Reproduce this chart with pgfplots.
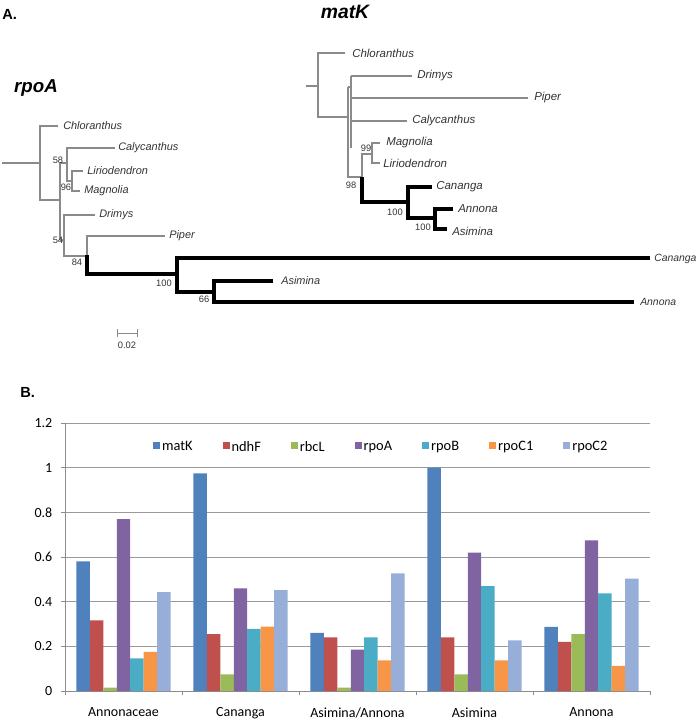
\documentclass[border=0pt]{standalone}
\usepackage{pgfplots}
\pgfplotsset{compat=1.18}
\usepackage{fontspec}
\setmainfont{Liberation Sans}
\newfontfamily\calfont{Carlito}
\definecolor{cmatK}{HTML}{4F81BD}
\definecolor{cndhF}{HTML}{C0504D}
\definecolor{crbcL}{HTML}{9BBB59}
\definecolor{crpoA}{HTML}{8064A2}
\definecolor{crpoB}{HTML}{4BACC6}
\definecolor{crpoCa}{HTML}{F79646}
\definecolor{crpoCb}{HTML}{97AED8}
\definecolor{treegray}{HTML}{8A8A8A}
\definecolor{txt}{HTML}{333333}
\definecolor{gridgray}{HTML}{9A9A9A}
\definecolor{axgray}{HTML}{8C8C8C}
\tikzset{
  gb/.style={treegray, line width=0.8pt},
  tb/.style={black, line width=2.3pt},
  lab/.style={anchor=west, inner sep=0pt, text=txt, font=\fontsize{8.2}{9}\selectfont\itshape},
  labm/.style={anchor=west, inner sep=0pt, text=txt, font=\fontsize{8.6}{9}\selectfont\itshape},
  bs/.style={inner sep=0pt, text=txt, font=\fontsize{7}{8}\selectfont},
}
\begin{document}
\begin{tikzpicture}[x=1pt,y=1pt]
\path[use as bounding box] (0pt,0pt) rectangle (522.75pt,-540pt);
% ---------------- Panel A: trees ----------------
\begin{axis}[at={(0pt,0pt)}, anchor=north west, scale only axis,
  width=522.75pt, height=262.5pt,
  xmin=0, xmax=697, ymin=0, ymax=350, y dir=reverse,
  hide axis, clip=false]
% rpoA tree (gray)
\addplot[gb] coordinates {(2,163) (40,163)};
\addplot[gb] coordinates {(58,126) (40,126) (40,200) (60,200)};
\addplot[gb] coordinates {(60,163) (60,240)};
\addplot[gb] coordinates {(60,163) (67,163)};
\addplot[gb] coordinates {(115,148) (67,148) (67,181) (72,181)};
\addplot[gb] coordinates {(83,171) (72,171) (72,191) (80,191)};
\addplot[gb] coordinates {(60,240) (64,240)};
\addplot[gb] coordinates {(95,215) (64,215) (64,256) (87,256)};
\addplot[gb] coordinates {(165,236) (87,236) (87,256)};
% rpoA tree (thick)
\addplot[tb] coordinates {(87,255) (87,274) (177,274)};
\addplot[tb] coordinates {(650,258) (177,258) (177,292) (214,292)};
\addplot[tb] coordinates {(273,281) (214,281) (214,302) (634,302)};
% scale bar
\addplot[gb, line width=0.7pt] coordinates {(117,333) (137,333)};
\addplot[gb, line width=0.7pt] coordinates {(117,329) (117,337)};
\addplot[gb, line width=0.7pt] coordinates {(137,329) (137,337)};
\node[bs] at (axis cs:127,345) {0.02};
% rpoA labels
\node[lab] at (axis cs:63,126) {Chloranthus};
\node[lab] at (axis cs:118,148) {Calycanthus};
\node[lab] at (axis cs:87,171) {Liriodendron};
\node[lab] at (axis cs:84,191) {Magnolia};
\node[lab] at (axis cs:99,215) {Drimys};
\node[lab] at (axis cs:169,236) {Piper};
\node[lab, font=\fontsize{7.8}{9}\selectfont\itshape] at (axis cs:654,259) {Cananga};
\node[lab] at (axis cs:281,281) {Asimina};
\node[lab, font=\fontsize{7.8}{9}\selectfont\itshape] at (axis cs:640,302) {Annona};
\node[bs] at (axis cs:58,160) {58};
\node[bs] at (axis cs:66,187) {96};
\node[bs] at (axis cs:58,240) {54};
\node[bs] at (axis cs:77,262) {84};
\node[bs] at (axis cs:164,283) {100};
\node[bs] at (axis cs:204,299) {66};
% matK tree (gray)
\addplot[gb] coordinates {(306,86) (318,86)};
\addplot[gb] coordinates {(345,53) (318,53) (318,117) (348,117)};
\addplot[gb] coordinates {(348,87) (348,177) (362,177)};
\addplot[gb] coordinates {(348,87) (351,87)};
\addplot[gb] coordinates {(351,76) (351,148)};
\addplot[gb] coordinates {(412,76) (351,76)};
\addplot[gb] coordinates {(351,98) (528,98)};
\addplot[gb] coordinates {(351,121) (407,121)};
\addplot[gb] coordinates {(362,177) (362,154) (372,154)};
\addplot[gb] coordinates {(380,143) (372,143) (372,163) (380,163)};
% matK tree (thick)
\addplot[tb] coordinates {(362,177) (362,202) (408,202)};
\addplot[tb] coordinates {(432,187) (408,187) (408,218) (435,218)};
\addplot[tb] coordinates {(453,209) (435,209) (435,229) (447,229)};
% matK labels
\node[labm] at (axis cs:352,53) {Chloranthus};
\node[labm] at (axis cs:417,76) {Drimys};
\node[labm] at (axis cs:534,98) {Piper};
\node[labm] at (axis cs:412,121) {Calycanthus};
\node[labm] at (axis cs:386,143) {Magnolia};
\node[labm] at (axis cs:383,163) {Liriodendron};
\node[labm] at (axis cs:436,187) {Cananga};
\node[labm] at (axis cs:458,209) {Annona};
\node[labm] at (axis cs:452,231) {Asimina};
\node[bs] at (axis cs:366,148) {99};
\node[bs] at (axis cs:351,185) {98};
\node[bs] at (axis cs:395,212) {100};
\node[bs] at (axis cs:423,227) {100};
% titles
\node[anchor=west, inner sep=0pt, font=\fontsize{11}{12}\selectfont\bfseries] at (axis cs:2,14) {A.};
\node[inner sep=0pt, font=\fontsize{14}{16}\selectfont\bfseries\itshape] at (axis cs:36,88) {rpoA};
\node[inner sep=0pt, font=\fontsize{14.5}{16}\selectfont\bfseries\itshape] at (axis cs:345,12) {matK};
\node[anchor=west, inner sep=0pt, font=\fontsize{11}{12}\selectfont\bfseries] at (axis cs:20,392) {B.};
\end{axis}
% ---------------- Panel B: bar chart ----------------
\begin{axis}[at={(48.75pt,-518.25pt)}, anchor=south west, scale only axis,
  width=438.75pt, height=201pt,
  xmin=-0.5, xmax=4.5, ymin=0, ymax=1.2,
  ybar, bar width=0.115,
  axis x line*=bottom, axis y line*=left,
  axis line style={draw=axgray, line width=0.75pt},
  ytick={0,0.2,0.4,0.6,0.8,1,1.2},
  ymajorgrids, grid style={draw=gridgray, line width=0.75pt},
  tick align=outside, major tick length=3pt,
  tick style={draw=axgray, line width=0.6pt},
  xtick={-0.5,0.5,1.5,2.5,3.5,4.5}, xticklabels={},
  extra x ticks={0,1,2,3,4},
  extra x tick labels={Annonaceae,Cananga,Asimina/Annona,Asimina,Annona},
  extra x tick style={major tick length=0pt, tick style={draw=none}, grid=none,
     xticklabel style={yshift=-9pt}},
  ticklabel style={font=\calfont\fontsize{10.5}{12}\selectfont, text=black},
  yticklabel style={xshift=-3pt, /pgf/number format/fixed},
  /pgf/number format/assume math mode=true,
  legend style={at={(0.150,0.910)}, anchor=west, draw=none, fill=none,
     legend columns=7, inner sep=0pt,
     font=\calfont\fontsize{10.8}{12}\selectfont,
     nodes={inner sep=1.5pt},
     /tikz/every even column/.append style={column sep=21pt}},
  legend image code/.code={\fill[#1] (0pt,-1.2pt) rectangle (5.25pt,4.05pt);},
]
\addplot[fill=cmatK, draw=none, bar shift=-0.345] coordinates {(0,0.58) (1,0.975) (2,0.26) (3,1.0) (4,0.287)};
\addplot[fill=cndhF, draw=none, bar shift=-0.230] coordinates {(0,0.316) (1,0.255) (2,0.24) (3,0.24) (4,0.22)};
\addplot[fill=crbcL, draw=none, bar shift=-0.115] coordinates {(0,0.015) (1,0.075) (2,0.015) (3,0.075) (4,0.255)};
\addplot[fill=crpoA, draw=none, bar shift=0] coordinates {(0,0.77) (1,0.46) (2,0.185) (3,0.62) (4,0.675)};
\addplot[fill=crpoB, draw=none, bar shift=0.115] coordinates {(0,0.146) (1,0.278) (2,0.24) (3,0.47) (4,0.437)};
\addplot[fill=crpoCa, draw=none, bar shift=0.230] coordinates {(0,0.175) (1,0.288) (2,0.137) (3,0.137) (4,0.113)};
\addplot[fill=crpoCb, draw=none, bar shift=0.345] coordinates {(0,0.443) (1,0.452) (2,0.527) (3,0.227) (4,0.503)};
\legend{matK,ndhF,rbcL,rpoA,rpoB,rpoC1,rpoC2}
\end{axis}
\end{tikzpicture}
\end{document}
